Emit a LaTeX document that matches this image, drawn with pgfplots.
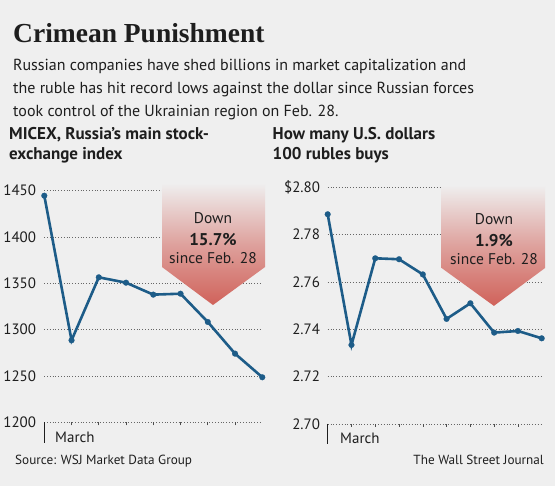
\documentclass[border=0pt]{standalone}
\usepackage{pgfplots}
\pgfplotsset{compat=1.18}
\usepackage{fontspec}
\setmainfont{PT Sans}
\newfontfamily\titlefont{Liberation Serif}
\definecolor{bg}{HTML}{EFEFEF}
\definecolor{linec}{HTML}{1D5C88}
\definecolor{redc}{HTML}{D0625A}
\definecolor{txt}{HTML}{1E1E1E}
\begin{document}
\begin{tikzpicture}
\fill[bg] (0,0) rectangle (555pt,486pt);
\useasboundingbox (0,0) rectangle (555pt,486pt);
% titles
\node[anchor=base west, inner sep=0pt, text=txt] at (13pt,443pt) {\titlefont\bfseries\fontsize{27.5}{29}\selectfont Crimean Punishment};
\node[anchor=base west, inner sep=0pt, text=txt] at (13pt,415pt) {\fontsize{16}{18}\selectfont Russian companies have shed billions in market capitalization and};
\node[anchor=base west, inner sep=0pt, text=txt] at (13pt,392pt) {\fontsize{16}{18}\selectfont the ruble has hit record lows against the dollar since Russian forces};
\node[anchor=base west, inner sep=0pt, text=txt] at (13pt,369pt) {\fontsize{16}{18}\selectfont took control of the Ukrainian region on Feb. 28.};
\node[anchor=base west, inner sep=0pt, text=txt] at (9pt,346.5pt) {\bfseries\fontsize{17}{18}\selectfont MICEX, Russia’s main stock-};
\node[anchor=base west, inner sep=0pt, text=txt] at (9pt,326.5pt) {\bfseries\fontsize{17}{18}\selectfont exchange index};
\node[anchor=base west, inner sep=0pt, text=txt] at (272.5pt,346.5pt) {\bfseries\fontsize{17}{18}\selectfont How many U.S. dollars};
\node[anchor=base west, inner sep=0pt, text=txt] at (272.5pt,326.5pt) {\bfseries\fontsize{17}{18}\selectfont 100 rubles buys};
% left axis
\begin{axis}[
  at={(44.3pt,63.7pt)}, anchor=south west,
  scale only axis, width=218pt, height=231.6pt,
  xmin=0, xmax=8, ymin=1200, ymax=1450,
  clip=false,
  axis line style={draw=none},
  xtick={1,2,3,4,5,6,7}, xticklabels={},
  ytick={1200,1250,1300,1350,1400,1450},
  yticklabels={1200,1250,1300,1350,1400,1450},
  ytick style={draw=none},
  xtick style={draw=black!70, line width=0.6pt},
  tick align=outside, xtick pos=bottom, major tick length=3pt,
  ymajorgrids, grid style={dash pattern=on 0.8pt off 2pt, black!60, line width=0.8pt},
  yticklabel style={anchor=east, inner sep=0pt, xshift=-5pt, text=txt, font=\fontsize{15}{16}\selectfont},
  /pgf/number format/assume math mode=true,
]
\shade[top color=bg, bottom color=redc, middle color=redc!55!bg] (axis cs:4.32,1458.3) -- (axis cs:8.10,1458.3) -- (axis cs:8.10,1367.6) -- (axis cs:6.19,1326.6) -- (axis cs:4.32,1367.6) -- cycle;
\addplot[color=linec, line width=2.6pt, mark=*, mark size=2.9pt, mark options={fill=linec, draw=linec, line width=0.2pt}] coordinates {
(0,1444.6) (1,1288.5) (2,1356.5) (3,1350.7) (4,1337.8) (5,1338.8) (6,1308.3) (7,1274.1) (8,1248.6)};
\end{axis}
\node[text=txt, font=\fontsize{15.5}{17}\selectfont] at (213pt,268pt) {Down};
\node[text=txt, font=\bfseries\fontsize{17}{19}\selectfont] at (213pt,246pt) {15.7\%};
\node[text=txt, font=\fontsize{15.5}{17}\selectfont] at (213pt,228pt) {since Feb. 28};
% right axis
\begin{axis}[
  at={(327.7pt,62pt)}, anchor=south west,
  scale only axis, width=214pt, height=236.7pt,
  xmin=0, xmax=9, ymin=2.70, ymax=2.80,
  clip=false,
  axis line style={draw=none},
  xtick={1,2,3,4,5,6,7,8}, xticklabels={},
  ytick={2.70,2.72,2.74,2.76,2.78,2.80},
  yticklabels={2.70,2.72,2.74,2.76,2.78,\$2.80},
  ytick style={draw=none},
  xtick style={draw=black!70, line width=0.6pt},
  tick align=outside, xtick pos=bottom, major tick length=3pt,
  ymajorgrids, grid style={dash pattern=on 0.8pt off 2pt, black!60, line width=0.8pt},
  yticklabel style={anchor=east, inner sep=0pt, xshift=-4.5pt, text=txt, font=\fontsize{15}{16}\selectfont},
  /pgf/number format/assume math mode=true,
]
\shade[top color=bg, bottom color=redc, middle color=redc!55!bg] (axis cs:4.79,2.8010) -- (axis cs:9.14,2.8010) -- (axis cs:9.14,2.7659) -- (axis cs:6.99,2.7499) -- (axis cs:4.79,2.7659) -- cycle;
\addplot[color=linec, line width=2.6pt, mark=*, mark size=2.9pt, mark options={fill=linec, draw=linec, line width=0.2pt}] coordinates {
(0,2.7886) (1,2.7334) (2,2.7700) (3,2.7696) (4,2.7632) (5,2.7444) (6,2.7510) (7,2.7386) (8,2.7393) (9,2.7362)};
\end{axis}
\node[text=txt, font=\fontsize{15.5}{17}\selectfont] at (494pt,267pt) {Down};
\node[text=txt, font=\bfseries\fontsize{17}{19}\selectfont] at (494pt,245pt) {1.9\%};
\node[text=txt, font=\fontsize{15.5}{17}\selectfont] at (494pt,227pt) {since Feb. 28};
% March markers
\draw[txt, line width=1.1pt] (44.3pt,63.5pt) -- (44.3pt,43pt);
\node[anchor=base west, inner sep=0pt, text=txt, font=\fontsize{15}{16}\selectfont] at (55pt,43pt) {March};
\draw[txt, line width=1.1pt] (327.7pt,62pt) -- (327.7pt,42pt);
\node[anchor=base west, inner sep=0pt, text=txt, font=\fontsize{15}{16}\selectfont] at (340pt,42pt) {March};
% footer
\node[anchor=base west, inner sep=0pt, text=txt, font=\fontsize{13.2}{15}\selectfont] at (15pt,21pt) {Source: WSJ Market Data Group};
\node[anchor=base east, inner sep=0pt, text=txt, font=\fontsize{13.2}{15}\selectfont] at (544pt,21pt) {The Wall Street Journal};
\end{tikzpicture}
\end{document}
